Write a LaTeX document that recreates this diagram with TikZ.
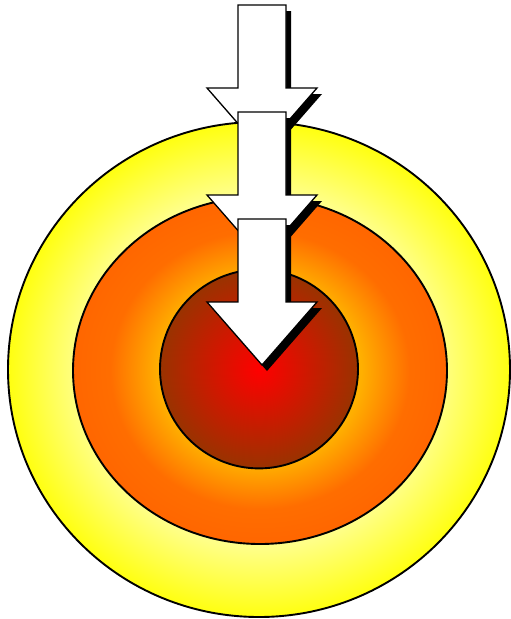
\documentclass[tikz,border=0pt]{standalone}
\definecolor{paleyellow}{HTML}{FFFF88}
\definecolor{ringyellow}{HTML}{FFFF10}
\definecolor{amber}{HTML}{FFB000}
\definecolor{deeporange}{HTML}{FF6600}
\definecolor{corered}{HTML}{FF0000}
\definecolor{corebrown}{HTML}{993300}
\pgfdeclareradialshading{outerring}{\pgfpoint{0bp}{0bp}}{color(0bp)=(paleyellow); color(18bp)=(paleyellow); color(25bp)=(ringyellow); color(50bp)=(ringyellow)}
\pgfdeclareradialshading{middlering}{\pgfpoint{0bp}{0bp}}{color(0bp)=(amber); color(13.5bp)=(amber); color(20bp)=(deeporange!90!amber); color(25bp)=(deeporange); color(50bp)=(deeporange)}
\pgfdeclareradialshading{corering}{\pgfpoint{0bp}{0bp}}{color(0bp)=(corered); color(25bp)=(corebrown); color(50bp)=(corebrown)}
\tikzset{
    ring/.style={draw=black, line width=1.9pt},
    blockarrow/.style={fill=white, draw=black, line width=1.3pt, line join=miter},
    arrowshadow/.style={fill=black}
}
\begin{document}
\begin{tikzpicture}[x=1pt, y=-1pt]
    \useasboundingbox (0,0) rectangle (511,619);

    \shadedraw[ring, shading=outerring] (259,369.5) ellipse [x radius=251, y radius=247.5];
    \shadedraw[ring, shading=middlering] (260,370.5) ellipse [x radius=187, y radius=173.5];
    \shadedraw[ring, shading=corering] (259,369) ellipse [x radius=99, y radius=99.4];

    \foreach \t in {5,112,219}{
        \begin{scope}[shift={(0,\t)}]
            \fill[arrowshadow] (243,6) -- ++(48,0) -- ++(0,83) -- ++(31,0) -- ++(-55,63) -- ++(-55,-63) -- ++(31,0) -- cycle;
            \draw[blockarrow] (238,0) -- ++(48,0) -- ++(0,83) -- ++(31,0) -- ++(-55,63) -- ++(-55,-63) -- ++(31,0) -- cycle;
        \end{scope}
    }
\end{tikzpicture}
\end{document}
